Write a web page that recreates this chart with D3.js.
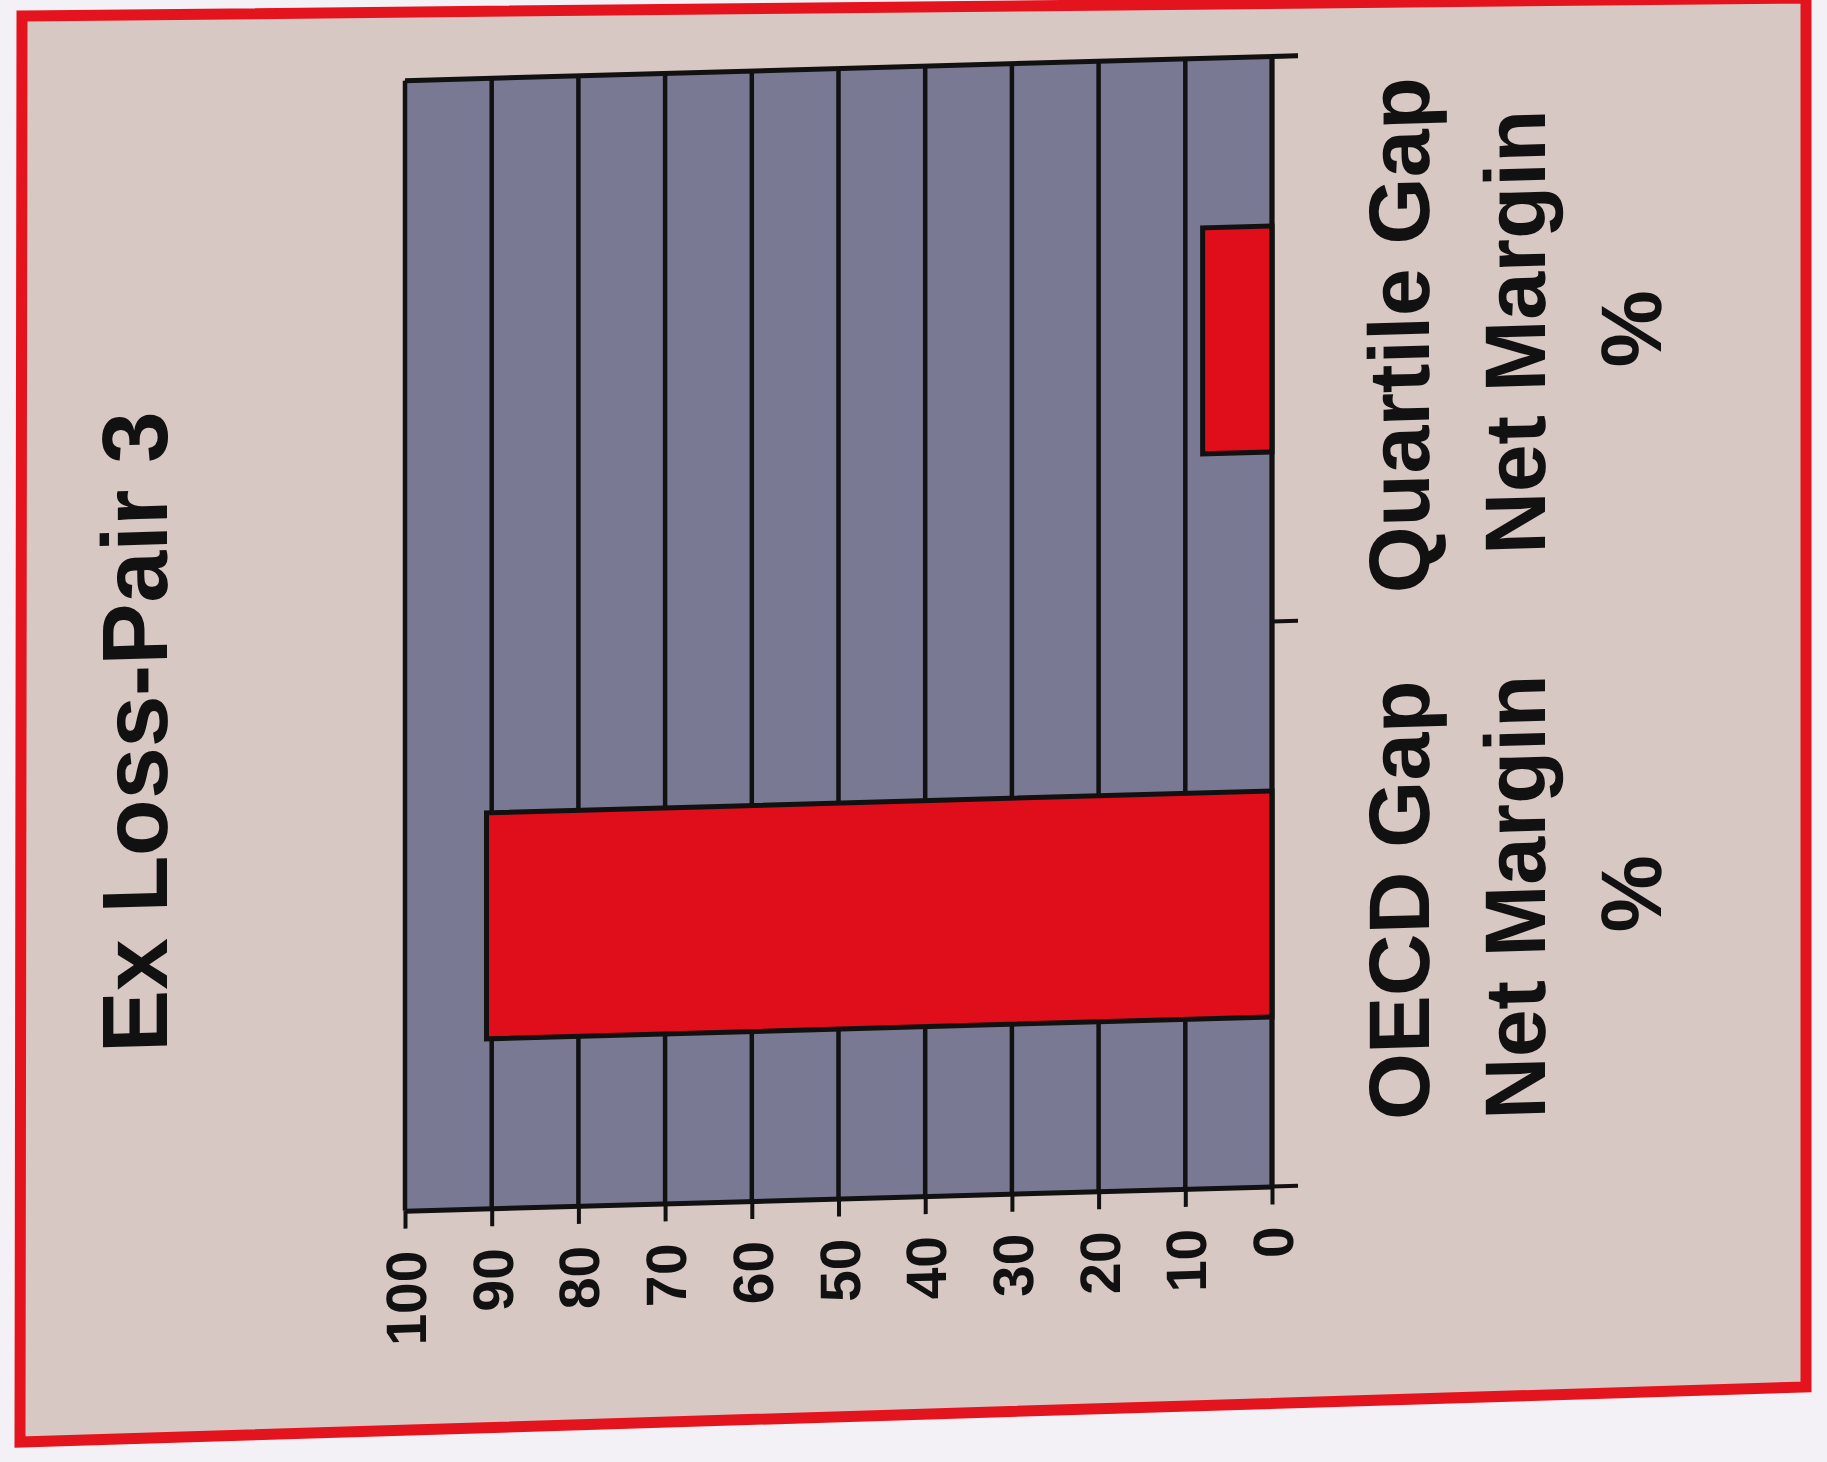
<!DOCTYPE html>
<html>
<head>
<meta charset="utf-8">
<script src="https://cdn.jsdelivr.net/npm/d3@7"></script>
<style>
  body { margin: 0; background: #f3f1f6; }
  svg { display: block; }
</style>
</head>
<body>
<div id="chart"></div>
<script>
// chart data
const title = "Ex Loss-Pair 3";
const categories = ["Quartile Gap Net Margin %", "OECD Gap Net Margin %"];
const categoryLines = [["Quartile Gap", "Net Margin", "%"], ["OECD Gap", "Net Margin", "%"]];
const values = [8, 90.6];
const tickValues = [0, 10, 20, 30, 40, 50, 60, 70, 80, 90, 100];

let width = 1827, height = 1462;
let font = "'Liberation Sans', Arial, sans-serif";

let svg = d3.select("#chart")
            .append("svg")
            .attr("width", width)
            .attr("height", height);

svg.append("rect")
   .attr("width", width)
   .attr("height", height)
   .attr("fill", "#f3f1f6");

// the card, photographed a little crooked
svg.append("polygon")
   .attr("points", "22,16 1806,-2 1806,1387 20,1442")
   .attr("fill", "#d7c8c3")
   .attr("stroke", "#e3141d")
   .attr("stroke-width", 11);

// everything inside is sheared like the photo
let g = svg.append("g").attr("transform", "skewY(-1.6)");

// value axis runs right-to-left (chart is turned on its side)
let x = d3.scaleLinear()
  .domain([0, 100])
  .range([1272, 405]);

let y = d3.scaleBand()
  .domain(categories)
  .range([92, 1222])
  .paddingInner(0.6)
  .paddingOuter(0.3);

let plotTop = y.range()[0], plotBottom = y.range()[1];

// plot area
g.append("rect")
  .attr("x", x(100))
  .attr("y", plotTop)
  .attr("width", x(0) - x(100))
  .attr("height", plotBottom - plotTop)
  .attr("fill", "#7a7994");

// gridlines
g.selectAll(".grid")
  .data(tickValues)
  .enter()
  .append("line")
  .attr("x1", d => x(d))
  .attr("x2", d => x(d))
  .attr("y1", plotTop)
  .attr("y2", plotBottom)
  .style("stroke", "#111")
  .style("stroke-width", 4.5);

// top border of plot, runs a bit past the category axis
g.append("line")
  .attr("x1", x(100))
  .attr("x2", x(0) + 26)
  .attr("y1", plotTop)
  .attr("y2", plotTop)
  .style("stroke", "#111")
  .style("stroke-width", 5);

// bars
g.selectAll(".bar")
  .data(values)
  .enter()
  .append("rect")
  .attr("x", d => x(d))
  .attr("y", (d, i) => y(categories[i]))
  .attr("width", d => x(0) - x(d))
  .attr("height", y.bandwidth())
  .style("fill", "#e00d1a")
  .style("stroke", "#111")
  .style("stroke-width", 5);

// value axis along the bottom
let xAxis = g.append("g")
  .attr("transform", `translate(0,${plotBottom})`)
  .call(d3.axisBottom(x).tickValues(tickValues).tickSize(18).tickSizeOuter(0));

xAxis.select(".domain").style("stroke", "#111").style("stroke-width", 5);
xAxis.selectAll(".tick line").style("stroke", "#111").style("stroke-width", 4);
xAxis.selectAll("text")
  .attr("transform", "rotate(-90)")
  .attr("x", -40)
  .attr("y", 0)
  .attr("dy", "0.36em")
  .attr("text-anchor", "end")
  .style("font-family", font)
  .style("font-weight", "bold")
  .style("font-size", "57px")
  .style("fill", "#111");

// category axis on the right
g.append("line")
  .attr("x1", x(0))
  .attr("x2", x(0))
  .attr("y1", plotTop)
  .attr("y2", plotBottom)
  .style("stroke", "#111")
  .style("stroke-width", 5);

g.selectAll(".ctick")
  .data(d3.range(categories.length + 1))
  .enter()
  .append("line")
  .attr("x1", x(0))
  .attr("x2", x(0) + 26)
  .attr("y1", i => plotTop + i * y.step())
  .attr("y2", i => plotTop + i * y.step())
  .style("stroke", "#111")
  .style("stroke-width", 4);

// category labels, three lines each
let labelX = 1398, lineGap = 116;
let labels = g.selectAll(".clabel")
  .data(categories)
  .enter()
  .append("text")
  .attr("transform", d => `rotate(-90,${labelX},${y(d) + y.bandwidth() / 2})`)
  .attr("x", labelX)
  .attr("y", d => y(d) + y.bandwidth() / 2)
  .attr("text-anchor", "middle")
  .style("font-family", font)
  .style("font-weight", "bold")
  .style("font-size", "86px")
  .style("fill", "#111");

labels.each(function(d, i) {
  let t = d3.select(this);
  categoryLines[i].forEach((line, j) => {
    t.append("tspan")
      .attr("x", labelX)
      .attr("dy", j == 0 ? "0.36em" : lineGap)
      .text(line);
  });
});

// title
let titleX = 134, titleY = 736;
g.append("text")
  .attr("transform", `rotate(-90,${titleX},${titleY})`)
  .attr("x", titleX)
  .attr("y", titleY)
  .attr("dy", "0.36em")
  .attr("text-anchor", "middle")
  .style("font-family", font)
  .style("font-weight", "bold")
  .style("font-size", "93px")
  .style("fill", "#111")
  .text(title);
</script>
</body>
</html>
